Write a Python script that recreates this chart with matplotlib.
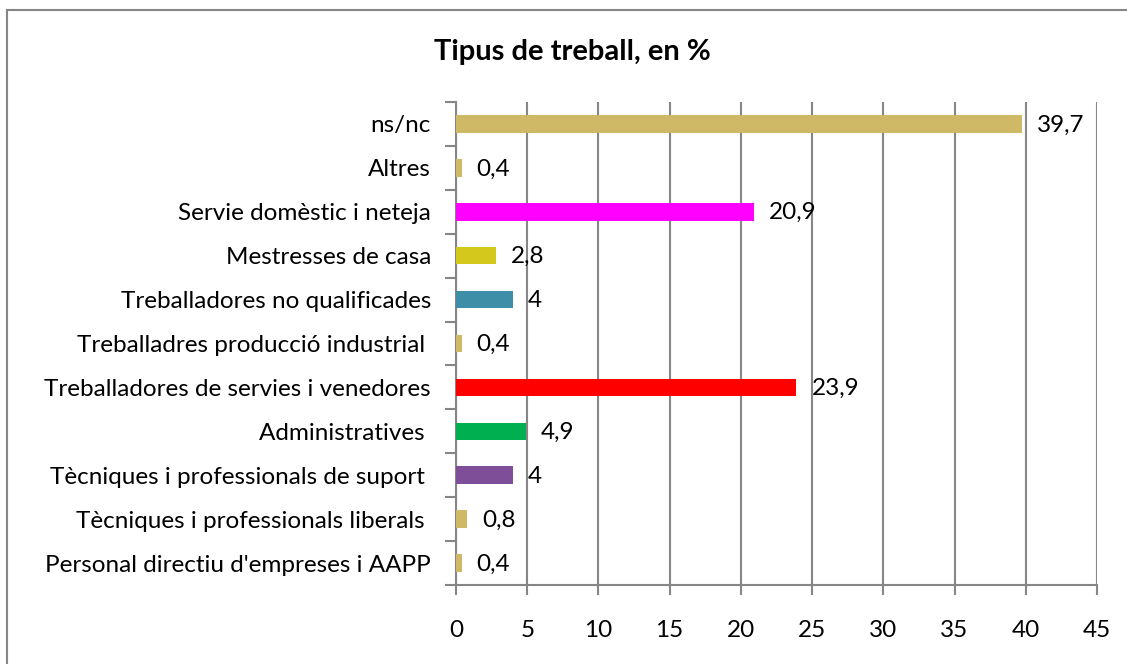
import matplotlib
matplotlib.use("Agg")
from matplotlib import pyplot as plt
from matplotlib.patches import Rectangle
import numpy as np

plt.rcParams['font.family'] = ['Lato', 'DejaVu Sans']

categories = ["Personal directiu d'empreses i AAPP",
              "Tècniques i professionals liberals ",
              "Tècniques i professionals de suport ",
              "Administratives ",
              "Treballadores de servies i venedores",
              "Treballadres producció industrial ",
              "Treballadores no qualificades",
              "Mestresses de casa",
              "Servie domèstic i neteja",
              "Altres",
              "ns/nc"]
values = [0.4, 0.8, 4, 4.9, 23.9, 0.4, 4, 2.8, 20.9, 0.4, 39.7]
value_labels = ["0,4", "0,8", "4", "4,9", "23,9", "0,4", "4", "2,8", "20,9", "0,4", "39,7"]
colors = ["#CFB966", "#CFB966", "#7E4F98", "#00B050", "#FF0000", "#CFB966",
          "#3F8EA8", "#D3C81B", "#FF00FF", "#CFB966", "#CFB966"]
xticks = [0, 5, 10, 15, 20, 25, 30, 35, 40, 45]

fig = plt.figure(figsize=(11.27, 6.64), dpi=100)
ax = fig.add_axes([456/1127, 1-585/664, (1097-456)/1127, (585-102)/664])

# outer chart frame
fig.patches.append(Rectangle((7/1127, -0.1), 1.2, 1.1 - 10/664, transform=fig.transFigure,
                             fill=False, edgecolor='#868686', linewidth=1.5))

pos = np.arange(len(categories))
ax.barh(pos, values, height=0.4, color=colors, zorder=3)
for p, v, lab in zip(pos, values, value_labels):
    ax.annotate(lab, (v, p), xytext=(15, -1), textcoords='offset pixels',
                va='center', ha='left', fontsize=17.5, zorder=4)

ax.set_xlim(0, 45)
ax.set_ylim(-0.5, len(categories) - 0.5)
ax.set_xticks(xticks)
ax.set_xticklabels([str(t) for t in xticks], fontsize=17.5)
ax.set_yticks(pos)
ax.set_yticklabels(categories, fontsize=17.5)
ax.set_yticks(np.arange(-0.5, len(categories)), minor=True)
ax.tick_params(axis='y', which='major', length=0, pad=18)
ax.tick_params(axis='y', which='minor', length=8, width=1.5, color='#868686', direction='out')
ax.tick_params(axis='x', length=7, width=1.5, color='#868686', pad=18)
ax.grid(axis='x', color='#868686', linewidth=1.5, zorder=0)
for s in ['top', 'right']:
    ax.spines[s].set_visible(False)
for s in ['left', 'bottom']:
    ax.spines[s].set_color('#868686')
    ax.spines[s].set_linewidth(1.5)

fig.text(572/1127, 1-52/664, "Tipus de treball, en %", ha='center', va='center',
         fontsize=21, fontweight='bold')

fig.savefig("out.png", dpi=100)
